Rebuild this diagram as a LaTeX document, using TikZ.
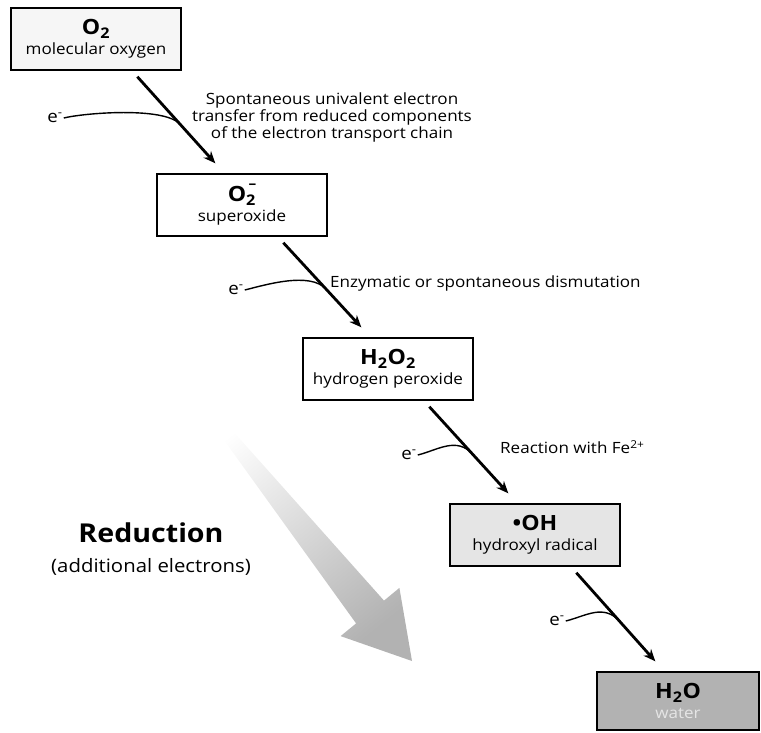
\documentclass[tikz,border=0pt]{standalone}
\usepackage{fontspec}
\setmainfont[FakeStretch=1.1]{Open Sans}
\usetikzlibrary{arrows.meta,calc}
\newcommand\fsz[2]{\fontsize{#1}{#2}\selectfont}
\begin{document}
\begin{tikzpicture}[x=1pt,y=-1pt,
  chem/.style={draw=black, line width=1.4pt, minimum width=170pt, minimum height=62pt,
    inner sep=0pt, align=center, font=\fsz{15.5}{20}},
  steparrow/.style={line width=2.8pt, -{Stealth[length=12pt,width=10pt]}},
  ecurve/.style={line width=1.4pt},
  lbl/.style={font=\fsz{15.5}{17}, inner sep=0pt},
  elbl/.style={font=\fsz{17}{17}, inner sep=1pt}
]
\useasboundingbox (0,0) rectangle (761,732);

% gray reduction arrow
\shade[top color=white, bottom color=gray!60, shading angle=39]
  (203,397.5) -- (384,600.6) -- (399.4,587.9) -- (412,661) -- (340.6,636.1)
  -- (356.1,623.4) -- (196.9,402.5) -- cycle;

% boxes
\node[chem, fill=gray!7] (b1) at (96,39)
  {{\fsz{21}{20}\bfseries O\textsubscript{2}}\\ molecular oxygen};
\node[chem, fill=white] (b2) at (242,205)
  {{\fsz{21}{20}\bfseries O\textsubscript{2}\kern-0.35em\raisebox{0.62em}{\fsz{14}{14}--}}\\ superoxide};
\node[chem, fill=white] (b3) at (388,369)
  {{\fsz{21}{20}\bfseries H\textsubscript{2}O\textsubscript{2}}\\ hydrogen peroxide};
\node[chem, fill=gray!20] (b4) at (535,535)
  {{\fsz{21}{20}\bfseries •OH}\\ hydroxyl radical};
\node[chem, fill=gray!60, minimum width=162pt, minimum height=58pt] (b5) at (678,701)
  {{\fsz{21}{20}\bfseries H\textsubscript{2}O}\\ \textcolor{gray!20}{water}};

% main arrows
\coordinate (s1) at ([xshift=127pt,yshift=-6pt]b1.south west);
\coordinate (t1) at ([xshift=59pt,yshift=10pt]b2.north west);
\coordinate (s2) at ([xshift=127pt,yshift=-6pt]b2.south west);
\coordinate (t2) at ([xshift=59pt,yshift=10pt]b3.north west);
\coordinate (s3) at ([xshift=127pt,yshift=-6pt]b3.south west);
\coordinate (t3) at ([xshift=59pt,yshift=10pt]b4.north west);
\coordinate (s4) at ([xshift=127pt,yshift=-6pt]b4.south west);
\coordinate (t4) at ([xshift=59pt,yshift=10pt]b5.north west);
\foreach \i in {1,...,4}{
  \draw[steparrow] (s\i) -- (t\i);
  \path (s\i) -- (t\i) coordinate[pos=0.55] (j\i);
}

% electrons
\node[elbl] (e1) at (55,118) {e\textsuperscript{-}};
\node[elbl] (e2) at (236,290) {e\textsuperscript{-}};
\node[elbl] (e3) at (409,455) {e\textsuperscript{-}};
\node[elbl] (e4) at (557,621) {e\textsuperscript{-}};
\foreach \i in {1,...,4}{
  \draw[ecurve] (e\i.east) .. controls +(20,-5) and ($(j\i)+(-16,-18)$) .. (j\i);
}

% annotations
\node[lbl, align=center] (n1) at (332,117)
  {Spontaneous univalent electron\\transfer from reduced components\\of the electron transport chain};
\node[lbl, anchor=west] (n2) at (330,283) {Enzymatic or spontaneous dismutation};
\node[lbl, anchor=west] (n3) at (500,447) {Reaction with Fe\textsuperscript{2+}};

\node[inner sep=0pt, font=\fsz{26}{26}\bfseries] (red) at (151,533) {Reduction};
\node[inner sep=0pt, font=\fsz{18.5}{20}] (add) at (151,567) {(additional electrons)};
\end{tikzpicture}
\end{document}
